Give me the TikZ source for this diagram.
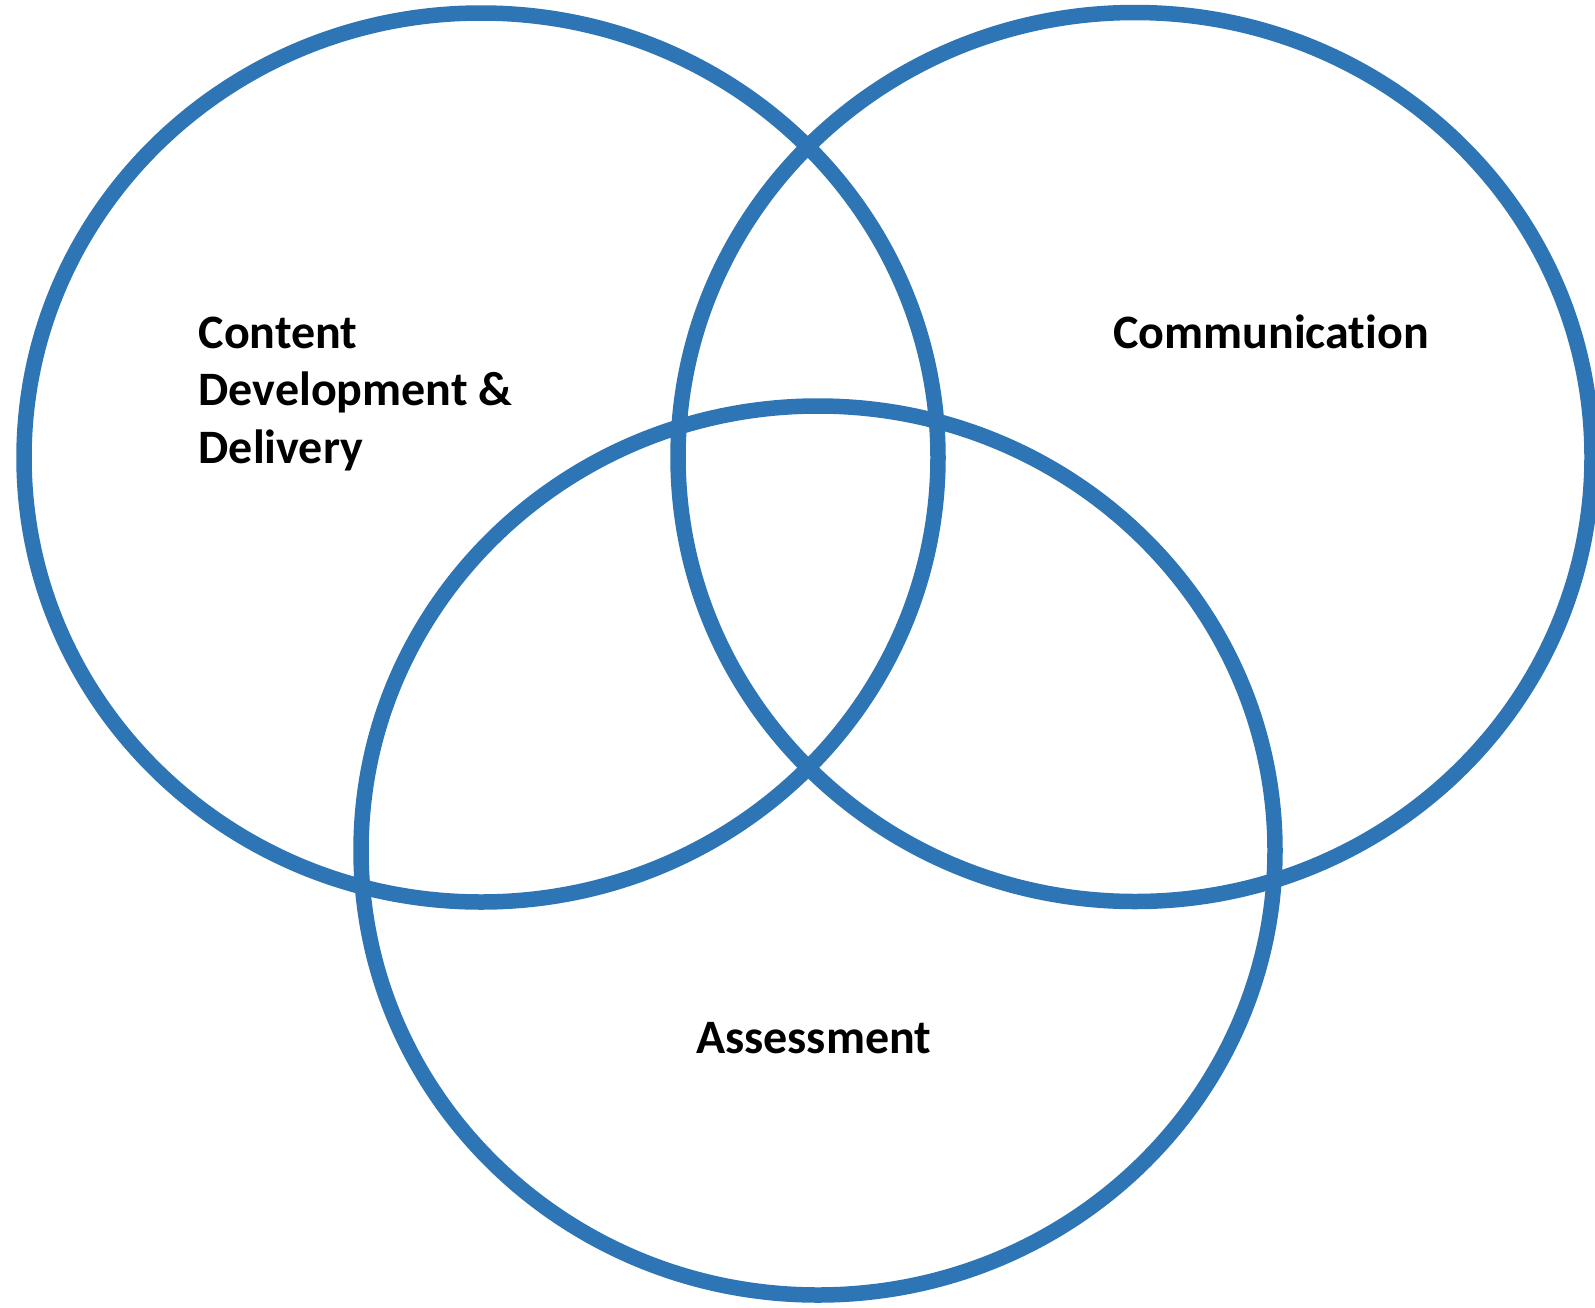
\documentclass[tikz,border=0pt]{standalone}
\usepackage{fontspec}
\setmainfont{Carlito}[Ligatures={NoCommon,NoRare,NoContextual}]
\definecolor{vennblue}{HTML}{2E75B6}
\begin{document}
\begin{tikzpicture}[x=1pt,y=1pt,
  ring/.style={draw=vennblue,line width=15.5pt},
  lbl/.style={font=\bfseries\fontsize{48}{57.5}\selectfont,inner sep=0pt,anchor=base west,align=left}]
\useasboundingbox (0,0) rectangle (1595,-1307);
\fill[white] (0,0) rectangle (1595,-1307);
\draw[ring] (481,-457.5) ellipse [x radius=457pt, y radius=444.5pt];
\draw[ring] (1135,-457) ellipse [x radius=457pt, y radius=444.5pt];
\draw[ring] (818,-850.5) ellipse [x radius=457pt, y radius=444.5pt];
\node[lbl] (cdd) at (198.5,-463) {Content\\Development \&\\Delivery};
\node[lbl] (com) at (1113,-348) {Communication};
\node[lbl] (ass) at (696,-1053) {Assessment};
\end{tikzpicture}
\end{document}
